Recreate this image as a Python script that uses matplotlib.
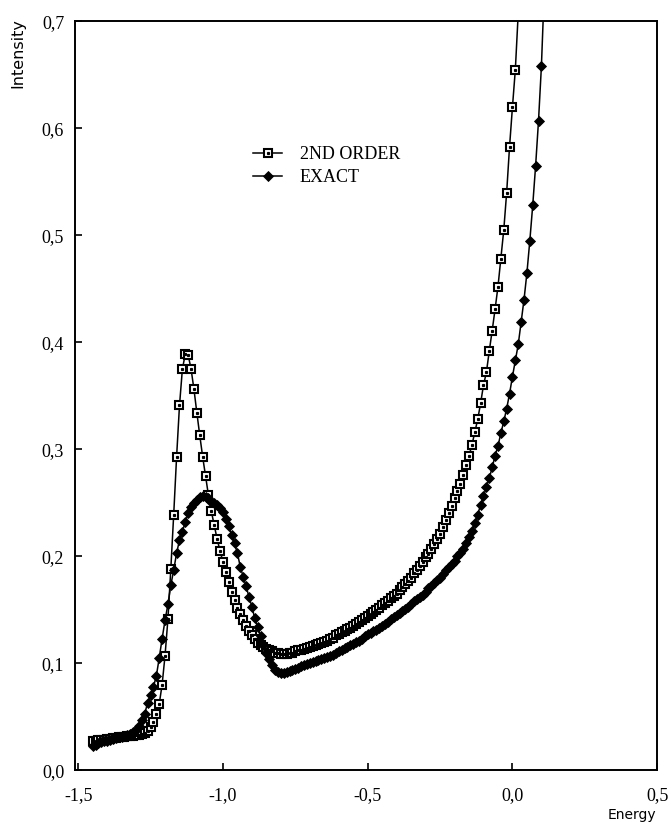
import numpy as np
import matplotlib
matplotlib.use("Agg")
import matplotlib.pyplot as plt
from matplotlib.ticker import FuncFormatter
from matplotlib.legend_handler import HandlerTuple

# 2ND ORDER curve (open squares)
energy_2nd = [
    -1.45, -1.44, -1.43, -1.42, -1.41, -1.40, -1.39, -1.38, -1.37, -1.36,
    -1.35, -1.34, -1.33, -1.32, -1.31, -1.30, -1.29, -1.28, -1.27, -1.26,
    -1.25, -1.24, -1.23, -1.22, -1.21, -1.20, -1.19, -1.18, -1.17, -1.16,
    -1.15, -1.14, -1.13, -1.12, -1.11, -1.10, -1.09, -1.08, -1.07, -1.06,
    -1.05, -1.04, -1.03, -1.02, -1.01, -1.00, -0.99, -0.98, -0.97, -0.96,
    -0.95, -0.94, -0.93, -0.92, -0.91, -0.90, -0.89, -0.88, -0.87, -0.86,
    -0.85, -0.84, -0.83, -0.82, -0.81, -0.80, -0.79, -0.78, -0.77, -0.76,
    -0.75, -0.74, -0.73, -0.72, -0.71, -0.70, -0.69, -0.68, -0.67, -0.66,
    -0.65, -0.64, -0.63, -0.62, -0.61, -0.60, -0.59, -0.58, -0.57, -0.56,
    -0.55, -0.54, -0.53, -0.52, -0.51, -0.50, -0.49, -0.48, -0.47, -0.46,
    -0.45, -0.44, -0.43, -0.42, -0.41, -0.40, -0.39, -0.38, -0.37, -0.36,
    -0.35, -0.34, -0.33, -0.32, -0.31, -0.30, -0.29, -0.28, -0.27, -0.26,
    -0.25, -0.24, -0.23, -0.22, -0.21, -0.20, -0.19, -0.18, -0.17, -0.16,
    -0.15, -0.14, -0.13, -0.12, -0.11, -0.10, -0.09, -0.08, -0.07, -0.06,
    -0.05, -0.04, -0.03, -0.02, -0.01, 0.00, 0.01, 0.02]
intensity_2nd = [
    0.027, 0.027, 0.028, 0.028, 0.028, 0.029, 0.029, 0.030, 0.030, 0.031,
    0.031, 0.031, 0.032, 0.032, 0.032, 0.033, 0.033, 0.034, 0.035, 0.037,
    0.040, 0.045, 0.053, 0.062, 0.080, 0.107, 0.141, 0.188, 0.239, 0.293,
    0.341, 0.375, 0.389, 0.388, 0.375, 0.356, 0.334, 0.313, 0.293, 0.275,
    0.257, 0.242, 0.229, 0.216, 0.205, 0.195, 0.185, 0.176, 0.167, 0.159,
    0.152, 0.146, 0.140, 0.135, 0.130, 0.126, 0.123, 0.119, 0.117, 0.115,
    0.113, 0.112, 0.111, 0.110, 0.110, 0.109, 0.109, 0.109, 0.110, 0.110,
    0.111, 0.112, 0.112, 0.113, 0.114, 0.115, 0.116, 0.117, 0.118, 0.119,
    0.120, 0.121, 0.123, 0.124, 0.126, 0.127, 0.129, 0.130, 0.132, 0.133,
    0.135, 0.137, 0.139, 0.140, 0.142, 0.144, 0.146, 0.148, 0.150, 0.152,
    0.154, 0.156, 0.158, 0.161, 0.163, 0.165, 0.168, 0.171, 0.174, 0.177,
    0.180, 0.184, 0.187, 0.191, 0.195, 0.199, 0.202, 0.207, 0.211, 0.216,
    0.221, 0.227, 0.234, 0.240, 0.247, 0.254, 0.261, 0.268, 0.276, 0.285,
    0.294, 0.304, 0.316, 0.328, 0.343, 0.360, 0.372, 0.392, 0.411, 0.431,
    0.452, 0.478, 0.505, 0.540, 0.583, 0.620, 0.655, 0.708]

# EXACT curve (filled diamonds)
energy_exact = [
    -1.45, -1.44, -1.43, -1.42, -1.41, -1.40, -1.39, -1.38, -1.37, -1.36,
    -1.35, -1.34, -1.33, -1.32, -1.31, -1.30, -1.29, -1.28, -1.27, -1.26,
    -1.25, -1.24, -1.23, -1.22, -1.21, -1.20, -1.19, -1.18, -1.17, -1.16,
    -1.15, -1.14, -1.13, -1.12, -1.11, -1.10, -1.09, -1.08, -1.07, -1.06,
    -1.05, -1.04, -1.03, -1.02, -1.01, -1.00, -0.99, -0.98, -0.97, -0.96,
    -0.95, -0.94, -0.93, -0.92, -0.91, -0.90, -0.89, -0.88, -0.87, -0.86,
    -0.85, -0.84, -0.83, -0.82, -0.81, -0.80, -0.79, -0.78, -0.77, -0.76,
    -0.75, -0.74, -0.73, -0.72, -0.71, -0.70, -0.69, -0.68, -0.67, -0.66,
    -0.65, -0.64, -0.63, -0.62, -0.61, -0.60, -0.59, -0.58, -0.57, -0.56,
    -0.55, -0.54, -0.53, -0.52, -0.51, -0.50, -0.49, -0.48, -0.47, -0.46,
    -0.45, -0.44, -0.43, -0.42, -0.41, -0.40, -0.39, -0.38, -0.37, -0.36,
    -0.35, -0.34, -0.33, -0.32, -0.31, -0.30, -0.29, -0.28, -0.27, -0.26,
    -0.25, -0.24, -0.23, -0.22, -0.21, -0.20, -0.19, -0.18, -0.17, -0.16,
    -0.15, -0.14, -0.13, -0.12, -0.11, -0.10, -0.09, -0.08, -0.07, -0.06,
    -0.05, -0.04, -0.03, -0.02, -0.01, 0.00, 0.01, 0.02, 0.03, 0.04,
    0.05, 0.06, 0.07, 0.08, 0.09, 0.10, 0.11]
intensity_exact = [
    0.023, 0.024, 0.025, 0.026, 0.027, 0.027, 0.028, 0.029, 0.030, 0.031,
    0.031, 0.032, 0.033, 0.034, 0.036, 0.038, 0.041, 0.047, 0.053, 0.063,
    0.070, 0.078, 0.088, 0.105, 0.123, 0.140, 0.155, 0.173, 0.187, 0.203,
    0.215, 0.223, 0.232, 0.240, 0.246, 0.250, 0.253, 0.255, 0.256, 0.255,
    0.254, 0.251, 0.250, 0.248, 0.245, 0.241, 0.235, 0.228, 0.220, 0.212,
    0.203, 0.190, 0.181, 0.172, 0.162, 0.153, 0.142, 0.134, 0.125, 0.117,
    0.110, 0.104, 0.098, 0.094, 0.092, 0.091, 0.091, 0.092, 0.093, 0.094,
    0.095, 0.096, 0.097, 0.098, 0.099, 0.100, 0.101, 0.102, 0.103, 0.104,
    0.105, 0.106, 0.107, 0.108, 0.110, 0.111, 0.112, 0.114, 0.115, 0.117,
    0.118, 0.120, 0.121, 0.123, 0.125, 0.127, 0.128, 0.130, 0.131, 0.133,
    0.135, 0.137, 0.139, 0.141, 0.143, 0.145, 0.147, 0.149, 0.151, 0.153,
    0.155, 0.158, 0.160, 0.162, 0.164, 0.167, 0.170, 0.172, 0.175, 0.178,
    0.180, 0.183, 0.187, 0.190, 0.193, 0.196, 0.200, 0.203, 0.207, 0.212,
    0.218, 0.224, 0.231, 0.239, 0.248, 0.256, 0.265, 0.273, 0.283, 0.294,
    0.303, 0.315, 0.326, 0.338, 0.352, 0.368, 0.383, 0.398, 0.419, 0.440,
    0.465, 0.495, 0.528, 0.565, 0.607, 0.658, 0.730]

x_ticks = [-1.5, -1.0, -0.5, 0.0, 0.5]
y_ticks = [0.0, 0.1, 0.2, 0.3, 0.4, 0.5, 0.6, 0.7]

serif = "Liberation Serif"
sans = "DejaVu Sans"

fig = plt.figure(figsize=(6.72, 8.22), dpi=100)
ax = fig.add_axes([0.112, 0.063, 0.866, 0.911])

sq_line, = ax.plot(energy_2nd, intensity_2nd, color="black", lw=1.1,
                   marker="s", ms=5.5, mfc="white", mec="black", mew=1.5)
# small dot in the middle of each square, as in the printed figure
sq_dot, = ax.plot(energy_2nd, intensity_2nd, ls="none", marker="s",
                  ms=1.3, color="black")
ex_line, = ax.plot(energy_exact, intensity_exact, color="black", lw=1.1,
                   marker="D", ms=5, mfc="black", mec="black", mew=0.6)

ax.set_xlim(-1.51, 0.5)
ax.set_ylim(0.0, 0.7)
ax.set_xticks(x_ticks)
ax.set_yticks(y_ticks)

comma = FuncFormatter(lambda v, pos: ("%.1f" % v).replace(".", ","))
ax.xaxis.set_major_formatter(comma)
ax.yaxis.set_major_formatter(comma)
ax.tick_params(direction="in", length=5, width=1.2, labelsize=13,
               top=False, right=False)
ax.tick_params(axis="x", pad=12)
ax.tick_params(axis="y", pad=8)
for lab in ax.get_xticklabels() + ax.get_yticklabels():
    lab.set_fontfamily(serif)
for s in ax.spines.values():
    s.set_linewidth(1.4)

leg = ax.legend([(sq_line, sq_dot), ex_line], ["2ND ORDER", "EXACT"],
                handler_map={tuple: HandlerTuple(ndivide=1)},
                loc="upper left", bbox_to_anchor=(0.29, 0.845),
                frameon=False, prop={"family": serif, "size": 13},
                handlelength=1.6, handletextpad=1.0, labelspacing=0.3,
                borderpad=0)

fig.text(0.027, 0.935, "Intensity", rotation=90, ha="center", va="center",
         family=sans, fontsize=11.5)
fig.text(0.940, 0.0, "Energy", ha="center", va="bottom",
         family=sans, fontsize=10)

fig.savefig("out.png", dpi=100)
